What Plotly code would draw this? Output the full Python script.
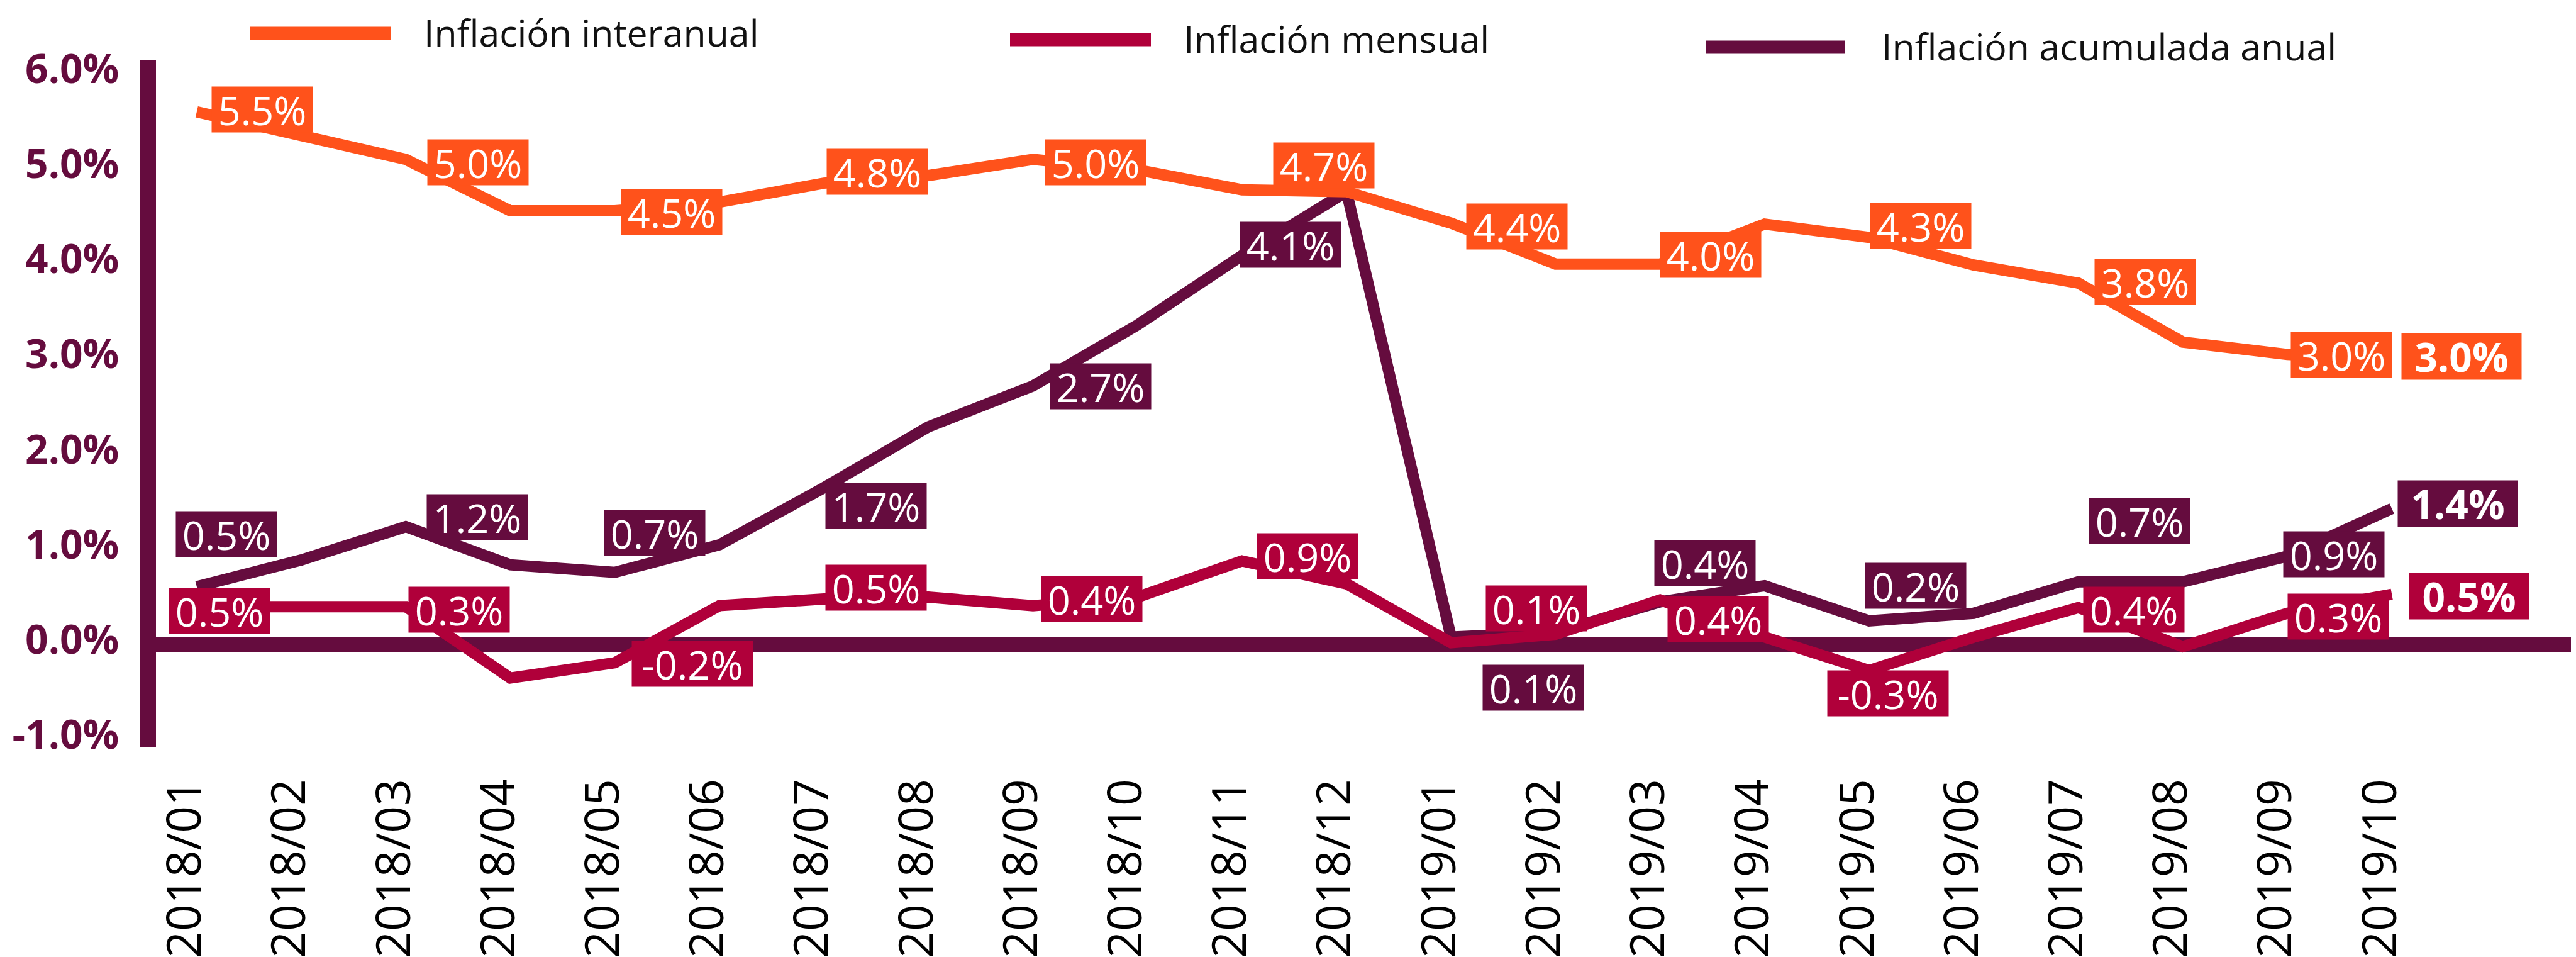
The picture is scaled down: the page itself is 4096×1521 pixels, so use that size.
import plotly.graph_objects as go

# ---------------- data ----------------
months = ["2018/01", "2018/02", "2018/03", "2018/04", "2018/05", "2018/06", "2018/07",
          "2018/08", "2018/09", "2018/10", "2018/11", "2018/12", "2019/01", "2019/02",
          "2019/03", "2019/04", "2019/05", "2019/06", "2019/07", "2019/08", "2019/09",
          "2019/10"]

interanual = [5.60, 5.35, 5.10, 4.56, 4.56, 4.65, 4.85, 4.93, 5.10, 4.99, 4.78,
              4.76, 4.43, 4.00, 4.00, 4.42, 4.28, 3.99, 3.80, 3.18, 3.05, 3.00]
mensual = [0.40, 0.40, 0.40, -0.35, -0.19, 0.41, 0.48, 0.50, 0.41, 0.50, 0.88,
           0.64, 0.02, 0.11, 0.47, 0.08, -0.27, 0.08, 0.39, -0.02, 0.33, 0.53]
acumulada = [0.61, 0.89, 1.24, 0.84, 0.76, 1.05, 1.65, 2.29, 2.72, 3.36, 4.09,
             4.76, 0.08, 0.13, 0.45, 0.62, 0.25, 0.33, 0.66, 0.66, 0.93, 1.43]

series_names = ["Inflación interanual", "Inflación mensual", "Inflación acumulada anual"]

# data-label texts (index of month, text)
lab_interanual_idx = [0, 2, 4, 6, 8, 11, 12, 14, 16, 18, 20]
lab_interanual_txt = ["5.5%", "5.0%", "4.5%", "4.8%", "5.0%", "4.7%", "4.4%", "4.0%",
                      "4.3%", "3.8%", "3.0%"]
lab_mensual_idx = [0, 2, 4, 6, 8, 10, 13, 14, 16, 18, 20]
lab_mensual_txt = ["0.5%", "0.3%", "-0.2%", "0.5%", "0.4%", "0.9%", "0.1%", "0.4%",
                   "-0.3%", "0.4%", "0.3%"]
lab_acumulada_idx = [0, 2, 4, 6, 8, 10, 13, 14, 16, 18, 20]
lab_acumulada_txt = ["0.5%", "1.2%", "0.7%", "1.7%", "2.7%", "4.1%", "0.1%", "0.4%",
                     "0.2%", "0.7%", "0.9%"]
last_txt = {"interanual": "3.0%", "mensual": "0.5%", "acumulada": "1.4%"}

yticks = [-1, 0, 1, 2, 3, 4, 5, 6]
ytick_text = [f"{v:.1f}%" for v in yticks]

# ---------------- style ----------------
S = 0.859
W, H = 4096, 1521
ML, MR, MT, MB = 240, 0, 88, 341
PW, PH = W - ML - MR, H - MT - MB
ORANGE = "#FF521B"
RED = "#B0003A"
PURPLE = "#650C3E"
FONT = "Open Sans"

# label box offsets relative to the point (reference px: dx right, dy down)
off_interanual = [(121, -4), (134, 5), (105, 2), (99, -21), (116, 6), (-42, -48),
                  (122, 6), (94, -17), (95, -21), (124, -2), (100, 1)]
off_mensual = [(42, 8), (99, 6), (144, 2), (97, -21), (109, -12), (121, -9),
               (-36, -48), (107, 35), (35, 42), (103, 4), (94, 6)]
off_acumulada = [(55, -97), (132, -18), (74, -73), (97, 34), (125, 1), (90, -20),
                 (-41, 102), (83, -72), (86, -65), (113, -113), (86, -3)]
off_last = {"interanual": (129, -5), "mensual": (143, 3), "acumulada": (122, -9)}

# legend layout (output px): sample start, sample end, text start, centre y
legend_pos = [(390, 614, 665, 45), (1598, 1822, 1873, 55), (2704, 2926, 2983, 67)]
LEGEND_TEXT_DY = -2


def px_x(px):
    return (px - ML) / PW


def px_y(py):
    return (MT + PH - py) / PH


fig = go.Figure()

series = [
    (series_names[2], acumulada, PURPLE),
    (series_names[1], mensual, RED),
    (series_names[0], interanual, ORANGE),
]
for name, vals, col in series:
    fig.add_trace(go.Scatter(
        x=months, y=vals, mode="lines", name=name,
        line=dict(color=col, width=18), hoverinfo="skip", showlegend=False))

annotations = []
shapes = []


def add_labels(vals, idxs, txts, offs, col):
    for i, t, (dx, dy) in zip(idxs, txts, offs):
        w = 192 if t.startswith("-") else 160
        annotations.append(dict(
            x=months[i], y=vals[i], xref="x", yref="y", text=t, showarrow=False,
            xshift=dx * S, yshift=-dy * S, xanchor="center", yanchor="middle",
            bgcolor=col, width=w, height=72, borderpad=0,
            font=dict(family=FONT, size=63, color="white")))


add_labels(interanual, lab_interanual_idx, lab_interanual_txt, off_interanual, ORANGE)
add_labels(mensual, lab_mensual_idx, lab_mensual_txt, off_mensual, RED)
add_labels(acumulada, lab_acumulada_idx, lab_acumulada_txt, off_acumulada, PURPLE)

for key, vals, col in [("interanual", interanual, ORANGE), ("mensual", mensual, RED),
                       ("acumulada", acumulada, PURPLE)]:
    dx, dy = off_last[key]
    annotations.append(dict(
        x=months[-1], y=vals[-1], xref="x", yref="y", text=last_txt[key],
        showarrow=False, xshift=dx * S, yshift=-dy * S, xanchor="center",
        yanchor="middle", bgcolor=col, width=190, height=73, borderpad=0,
        font=dict(family=FONT, size=64, color="white", weight="bold")))

# legend (samples + text)
for name, col, (x0, x1, xt, yc) in zip(series_names, [ORANGE, RED, PURPLE], legend_pos):
    shapes.append(dict(type="line", xref="paper", yref="paper",
                       x0=px_x(x0), x1=px_x(x1), y0=px_y(yc), y1=px_y(yc),
                       line=dict(color=col, width=21)))
    annotations.append(dict(x=px_x(xt), y=px_y(yc + LEGEND_TEXT_DY), xref="paper",
                            yref="paper", text=name, showarrow=False,
                            xanchor="left", yanchor="middle", height=58,
                            borderpad=0,
                            font=dict(family=FONT, size=59, color="#111111")))

fig.update_layout(
    width=W, height=H, autosize=False,
    margin=dict(l=ML, r=MR, t=MT, b=MB, pad=0),
    paper_bgcolor="white", plot_bgcolor="white",
    showlegend=False,
    annotations=annotations, shapes=shapes,
    xaxis=dict(type="category", range=[-0.39, 22.81], showgrid=False,
               zeroline=False, showline=False, ticks="", tickangle=-90,
               ticklabelstandoff=34, ticklabelshift=-18, automargin=False,
               tickfont=dict(family=FONT, size=75, color="black")),
    yaxis=dict(range=[-1.08, 6.14], tickvals=yticks, ticktext=ytick_text,
               showgrid=False, zeroline=True, zerolinewidth=25,
               zerolinecolor=PURPLE, showline=True, linewidth=26, linecolor=PURPLE,
               ticks="", ticklabelstandoff=20, ticklabelshift=-8, automargin=False,
               tickfont=dict(family=FONT, size=64, color=PURPLE, weight="bold")),
)

fig.write_html("out.html")
